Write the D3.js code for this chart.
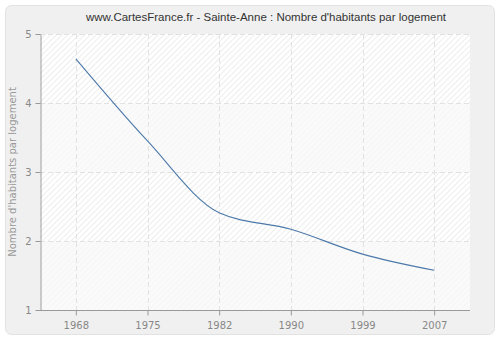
<!DOCTYPE html>
<html><head><meta charset="utf-8">
<script src="https://cdn.jsdelivr.net/npm/d3@7"></script>
<style>body{margin:0;background:#fff}svg{display:block}</style>
</head><body>
<script>
const years = ["1968","1975","1982","1990","1999","2007"];
const values = [4.64, 3.45, 2.41, 2.17, 1.81, 1.575];
const yTicks = [1,2,3,4,5];
const title = "www.CartesFrance.fr - Sainte-Anne : Nombre d'habitants par logement";
const yLabel = "Nombre d'habitants par logement";

const W=500,H=340;
const m={l:40,r:30,t:34,b:30};
const svg=d3.select("body").append("svg").attr("width",W).attr("height",H);
const defs=svg.append("defs");
const pat=defs.append("pattern").attr("id","hatch").attr("patternUnits","userSpaceOnUse")
  .attr("width",4).attr("height",4).attr("patternTransform","rotate(-45)");
pat.append("rect").attr("width",4).attr("height",4).attr("fill","#ffffff");
pat.append("line").attr("x1",0).attr("y1",0).attr("x2",4).attr("y2",0).attr("stroke","#e8e8e8").attr("stroke-width",1.5);

svg.append("rect").attr("x",5.5).attr("y",5.5).attr("width",489).attr("height",329).attr("rx",6)
  .attr("fill","#f0f0f0").attr("stroke","#e2e2e2");

const x=d3.scalePoint().domain(years).range([m.l,W-m.r]).padding(0.5);
const y=d3.scaleLinear().domain([1,5]).range([H-m.b,m.t]);

svg.append("rect").attr("x",m.l).attr("y",m.t).attr("width",W-m.r-m.l).attr("height",H-m.b-m.t).attr("fill","url(#hatch)");
[[3,4],[1,2]].forEach(b=>{
  svg.append("rect").attr("x",m.l).attr("y",y(b[1])).attr("width",W-m.r-m.l).attr("height",y(b[0])-y(b[1]))
    .attr("fill","#f8f8f8").attr("opacity",0.75);
});

const grid=svg.append("g").attr("stroke","#e2e2e2").attr("stroke-dasharray","5,3").attr("stroke-width",1);
years.forEach(d=>grid.append("line").attr("x1",Math.round(x(d))+0.5).attr("x2",Math.round(x(d))+0.5).attr("y1",m.t).attr("y2",H-m.b));
yTicks.filter(t=>t>1).forEach(t=>grid.append("line").attr("x1",m.l).attr("x2",W-m.r).attr("y1",Math.round(y(t))+0.5).attr("y2",Math.round(y(t))+0.5));

const gx=svg.append("g").attr("transform",`translate(0,${H-m.b+0.5})`)
  .call(d3.axisBottom(x).tickSize(5).tickSizeOuter(0).tickPadding(6));
const gy=svg.append("g").attr("transform",`translate(${m.l+0.5},0)`)
  .call(d3.axisLeft(y).tickValues(yTicks).tickFormat(d3.format("d")).tickSize(5).tickSizeOuter(0).tickPadding(4));
[gx,gy].forEach(g=>{
  g.select(".domain").attr("stroke","#999");
  g.selectAll(".tick line").attr("stroke","#999");
  g.selectAll("text").attr("fill","#888").style("font-family","DejaVu Sans, sans-serif").style("font-size","10px");
});
gx.select(".domain").attr("d",`M${m.l},0H${W-m.r}`);

const line=d3.line().x((d,i)=>x(years[i])).y(d=>y(d)).curve(d3.curveMonotoneX);
svg.append("path").datum(values).attr("d",line).attr("fill","none").attr("stroke","#4d79aa").attr("stroke-width",1.1);

svg.append("text").attr("x",266).attr("y",21).attr("text-anchor","middle")
  .style("font-family","Liberation Sans, Arial, sans-serif").style("font-size","11.5px").attr("fill","#333").text(title);
svg.append("text").attr("transform",`translate(16,${(m.t+H-m.b)/2}) rotate(-90)`).attr("text-anchor","middle")
  .style("font-family","DejaVu Sans, sans-serif").style("font-size","10px").attr("fill","#999").text(yLabel);
</script>
</body></html>
